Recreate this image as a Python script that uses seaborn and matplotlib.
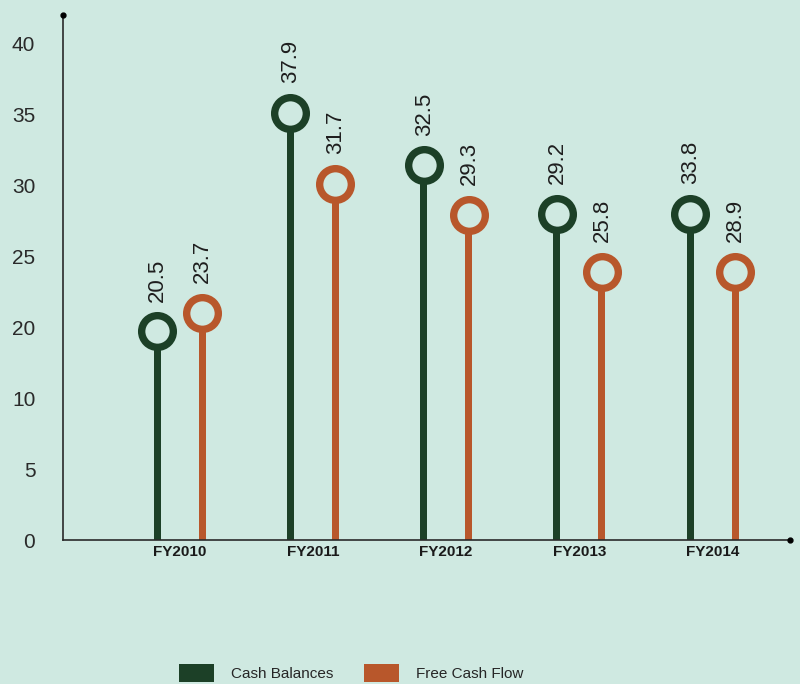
import numpy as np
import pandas as pd
import matplotlib
matplotlib.use("Agg")
import matplotlib.pyplot as plt
import seaborn as sns
from matplotlib.patches import Patch

# ---- data ----
years = ["FY2010", "FY2011", "FY2012", "FY2013", "FY2014"]
series = ["Cash Balances", "Free Cash Flow"]
# heights at which the lollipops are drawn (on the chart's axis)
cash_height = [19.4, 35.1, 31.4, 28.0, 28.0]
fcf_height = [21.0, 30.1, 27.9, 23.9, 23.9]
# values printed above the lollipops
cash_labels = ["20.5", "37.9", "32.5", "29.2", "33.8"]
fcf_labels = ["23.7", "31.7", "29.3", "25.8", "28.9"]
ytick_values = [0, 5, 10, 20, 25, 30, 35, 40]

BG = "#cfe9e1"
GREEN = "#1c4027"
ORANGE = "#b8572b"
palette = {series[0]: GREEN, series[1]: ORANGE}

df = pd.DataFrame({
    "year": years * 2,
    "series": [series[0]] * len(years) + [series[1]] * len(years),
    "height": cash_height + fcf_height,
    "label": cash_labels + fcf_labels,
})

sns.set_theme(style="white")
plt.rcParams["font.family"] = ["Liberation Sans", "DejaVu Sans"]

fig = plt.figure(figsize=(8, 6.84), dpi=100, facecolor=BG)
ax = fig.add_axes([63 / 800, 144 / 684, 727 / 800, 525 / 684])
ax.set_facecolor(BG)

# stems
sns.barplot(data=df, x="year", y="height", hue="series", hue_order=series,
            order=years, palette=palette, width=0.676, gap=0.845,
            saturation=1, errorbar=None, legend=False, ax=ax, zorder=1,
            linewidth=0)

# lollipop heads
sns.pointplot(data=df, x="year", y="height", hue="series", hue_order=series,
              order=years, palette=palette, dodge=0.338, linestyle="none",
              markers="o", errorbar=None, legend=False, ax=ax,
              markersize=22.8, markeredgewidth=5.3)

head_lines = [l for l in ax.lines if len(l.get_xdata()) == len(years)]
for line, s in zip(head_lines, series):
    line.set_markerfacecolor(BG)
    line.set_markeredgecolor(palette[s])
    line.set_zorder(3)
    labs = df[df["series"] == s]["label"].tolist()
    for xv, yv, t in zip(line.get_xdata(), line.get_ydata(), labs):
        ax.annotate(t, (xv, yv), xytext=(0.5, 21.5), textcoords="offset points",
                    rotation=90, ha="center", va="bottom", fontsize=16,
                    color="#1e1e1e", zorder=4)

# piecewise y axis (the reference skips 15: 10 -> 20 spans one tick step)
def fwd(v):
    v = np.asarray(v, float)
    return np.where(v <= 10, v, np.where(v <= 20, 10 + (v - 10) / 2, v - 5))

def inv(p):
    p = np.asarray(p, float)
    return np.where(p <= 10, p, np.where(p <= 15, 10 + (p - 10) * 2, p + 5))

ax.set_yscale("function", functions=(fwd, inv))
ax.set_ylim(0, 42)
ax.set_xlim(-0.875, 4.581)
ax.set_yticks(ytick_values)
ax.set_yticklabels([str(v) for v in ytick_values])
ax.yaxis.set_minor_locator(matplotlib.ticker.NullLocator())
ax.set_xlabel("")
ax.set_ylabel("")

for side in ["top", "right"]:
    ax.spines[side].set_visible(False)
for side in ["left", "bottom"]:
    ax.spines[side].set_color("#2a2a2a")
    ax.spines[side].set_linewidth(1.2)

ax.tick_params(axis="y", direction="out", length=14.4, width=1.2,
               color="#2a2a2a", pad=5.5, labelsize=15, labelcolor="#2a2a2a")
ax.tick_params(axis="x", length=0, pad=3.5, labelsize=11, labelcolor="#1a1a1a")
for t in ax.get_xticklabels():
    t.set_fontweight("bold")

# end dots on the axes
ax.plot([0, 1], [1, 0], "o", color="black", markersize=3.5,
        transform=ax.transAxes, clip_on=False, zorder=5)

# legend
handles = [Patch(facecolor=palette[s], edgecolor="none", label=s) for s in series]
fig.legend(handles=handles, loc="upper left", bbox_to_anchor=(179 / 800, 20 / 684),
           ncol=2, frameon=False, borderpad=0, borderaxespad=0,
           handlelength=2.3, handleheight=1.45, handletextpad=1.1,
           columnspacing=2.0,
           prop={"family": ["Liberation Sans", "DejaVu Sans"], "size": 11})

fig.savefig("out.png", dpi=100, facecolor=BG)
